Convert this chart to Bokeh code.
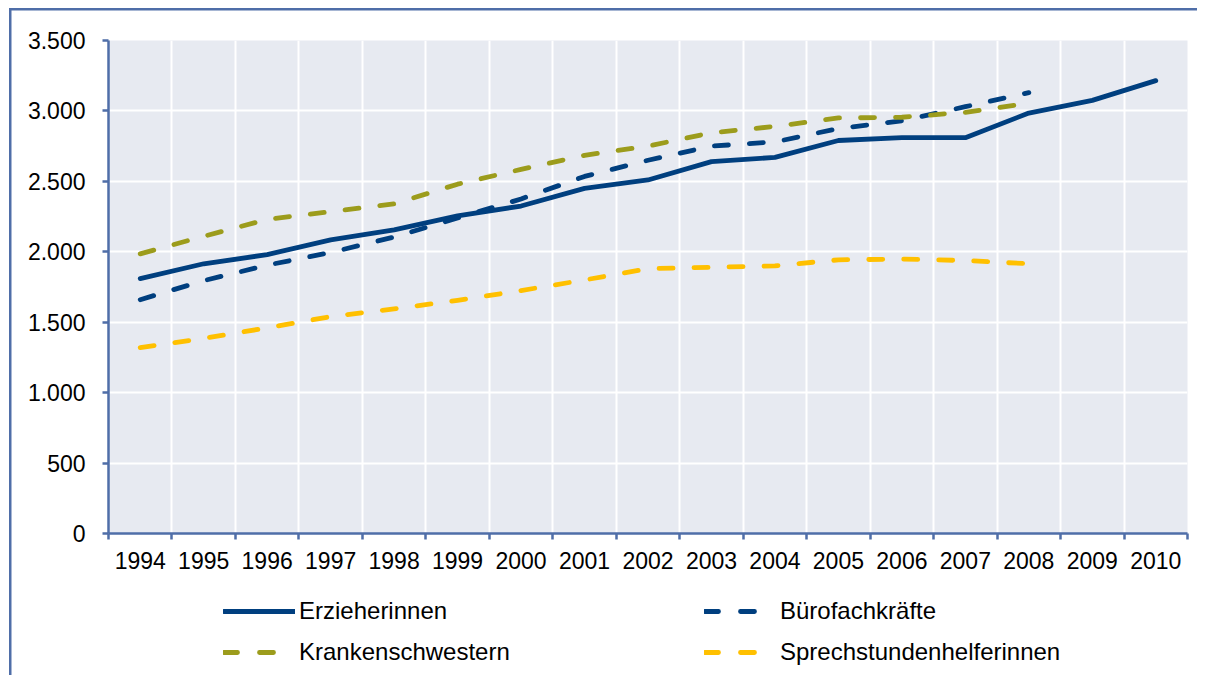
from bokeh.plotting import figure
from bokeh.models import Range1d, FixedTicker, Legend, LegendItem, Column
from bokeh.embed import file_html
from bokeh.resources import INLINE

# ---- data ----
years = [1994, 1995, 1996, 1997, 1998, 1999, 2000, 2001, 2002, 2003, 2004,
         2005, 2006, 2007, 2008, 2009, 2010]
erzieherinnen = [1810, 1915, 1980, 2085, 2155, 2255, 2325, 2450, 2510, 2640, 2670,
                 2790, 2810, 2810, 2985, 3075, 3215]
buerofachkraefte = [1660, 1795, 1905, 1995, 2105, 2240, 2375, 2535, 2650, 2750, 2780,
                    2875, 2930, 3030, 3130]
krankenschwestern = [1985, 2110, 2230, 2285, 2340, 2480, 2585, 2685, 2750, 2845, 2890,
                     2950, 2955, 2990, 3055]
sprechstundenhelferinnen = [1320, 1385, 1460, 1540, 1595, 1655, 1725, 1800, 1880, 1890, 1900,
                            1943, 1948, 1938, 1915]
y_ticks = [0, 500, 1000, 1500, 2000, 2500, 3000, 3500]
y_tick_labels = ["0", "500", "1.000", "1.500", "2.000", "2.500", "3.000", "3.500"]
series_names = ["Erzieherinnen", "Bürofachkräfte", "Krankenschwestern", "Sprechstundenhelferinnen"]

FONT = "Liberation Sans"
AXIS_COLOR = "#4F6EA8"
BLUE = "#003F7F"
OLIVE = "#9C9C1C"
YELLOW = "#FFC000"
LW = 4.8
DASH = "14 21"
LEGEND_DASH = "14 22 14 60"

p = figure(width=1197, height=580, output_backend="svg", toolbar_location=None,
           x_range=Range1d(years[0] - 0.5, years[-1] + 0.5), y_range=Range1d(0, 3500),
           min_border_left=108, min_border_right=10, min_border_top=40, min_border_bottom=47)
p.background_fill_color = "#E7EAF1"
p.border_fill_alpha = 0
p.outline_line_color = None

boundaries = [y - 0.5 for y in years] + [years[-1] + 0.5]

# axes
p.xaxis.ticker = FixedTicker(ticks=years, minor_ticks=boundaries)
p.xaxis.major_tick_line_color = None
p.xaxis.minor_tick_line_color = AXIS_COLOR
p.xaxis.minor_tick_line_width = 2.5
p.xaxis.minor_tick_out = 6
p.xaxis.minor_tick_in = 0
p.xaxis.major_label_standoff = 12

p.yaxis.ticker = FixedTicker(ticks=y_ticks, minor_ticks=[])
p.yaxis.major_label_overrides = {t: l for t, l in zip(y_ticks, y_tick_labels)}
p.yaxis.major_tick_line_color = AXIS_COLOR
p.yaxis.major_tick_line_width = 2.5
p.yaxis.major_tick_out = 6
p.yaxis.major_tick_in = 0
p.yaxis.minor_tick_line_color = None
p.yaxis.major_label_standoff = 17

for ax in (p.xaxis, p.yaxis):
    ax.axis_line_color = AXIS_COLOR
    ax.axis_line_width = 2.5
    ax.major_label_text_font = FONT
    ax.major_label_text_font_size = "23px"
    ax.major_label_text_color = "black"

# grids
p.xgrid.ticker = FixedTicker(ticks=boundaries)
p.xgrid.grid_line_color = "white"
p.xgrid.grid_line_width = 2
p.ygrid.ticker = FixedTicker(ticks=y_ticks)
p.ygrid.grid_line_color = "white"
p.ygrid.grid_line_width = 2

colors = [BLUE, BLUE, OLIVE, YELLOW]
dashed = [False, True, True, True]
series = [erzieherinnen, buerofachkraefte, krankenschwestern, sprechstundenhelferinnen]

for vals, c, d in zip(series, colors, dashed):
    p.line(years[:len(vals)], vals, line_color=c, line_width=LW,
           line_dash=DASH if d else "solid", line_cap="round", line_join="round")

# ---- legend strip (separate figure below the chart, frames aligned) ----
pl = figure(width=1197, height=95, output_backend="svg", toolbar_location=None,
            x_range=Range1d(0, 1), y_range=Range1d(0, 1),
            x_axis_type=None, y_axis_type=None,
            min_border_left=0, min_border_right=0, min_border_top=0, min_border_bottom=0)
pl.grid.visible = False
pl.outline_line_color = None
pl.background_fill_alpha = 0
pl.border_fill_alpha = 0

items = []
for name, c, d in zip(series_names, colors, dashed):
    # legend-sample renderer, kept outside the visible range
    r = pl.line([-3, -2], [-3, -2], line_color=c, line_width=LW,
                line_dash=LEGEND_DASH if d else "solid", line_cap="round", line_join="round")
    items.append(LegendItem(label=name, renderers=[r]))

legend = Legend(items=items, location=(115, 4), orientation="horizontal", ncols=2,
                glyph_width=72, glyph_height=38, label_width=402, label_height=38,
                spacing=3, padding=0, margin=0, label_standoff=4,
                background_fill_alpha=0, border_line_alpha=0,
                label_text_font=FONT, label_text_font_size="24px", label_text_color="black")
pl.add_layout(legend)

# outer chart border: left and top edges (right/bottom lie outside the visible area)
layout = Column(children=[p, pl], spacing=0, styles={
    "background": ("linear-gradient(%s, %s) 9px 8px / 2.5px 100%% no-repeat, "
                   "linear-gradient(%s, %s) 9px 8px / 100%% 2.5px no-repeat, white")
                  % (AXIS_COLOR, AXIS_COLOR, AXIS_COLOR, AXIS_COLOR)
})

open("out.html", "w").write(file_html(layout, INLINE))
